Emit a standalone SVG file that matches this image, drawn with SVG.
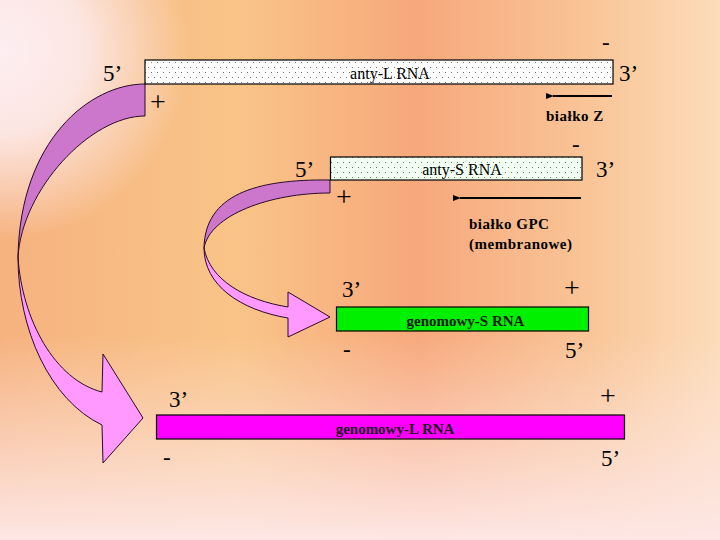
<svg xmlns="http://www.w3.org/2000/svg" width="720" height="540" viewBox="0 0 720 540">
<defs>
<linearGradient id="bgH" x1="0" y1="0" x2="1" y2="0">
<stop offset="0" stop-color="#F6B27F"/>
<stop offset="0.33" stop-color="#F9C488"/>
<stop offset="0.58" stop-color="#F7A87C"/>
<stop offset="0.82" stop-color="#F9C597"/>
<stop offset="1" stop-color="#FCDCBA"/>
</linearGradient>
<linearGradient id="bgV" x1="0" y1="0" x2="0" y2="1">
<stop offset="0" stop-color="#FDE6E4" stop-opacity="0"/>
<stop offset="0.62" stop-color="#FDE6E4" stop-opacity="0"/>
<stop offset="1" stop-color="#FDE6E4" stop-opacity="1"/>
</linearGradient>
<radialGradient id="bgC" cx="0" cy="50" r="190" gradientUnits="userSpaceOnUse">
<stop offset="0" stop-color="#FDEEF2" stop-opacity="1"/>
<stop offset="0.45" stop-color="#FDEEF2" stop-opacity="0.85"/>
<stop offset="1" stop-color="#FDEEF2" stop-opacity="0"/>
</radialGradient>
<pattern id="dotsL" width="6" height="10" patternUnits="userSpaceOnUse">
<rect width="6" height="10" fill="#FFFFFF"/>
<rect x="1" y="2" width="1" height="1" fill="#777"/>
<rect x="4" y="7" width="1" height="1" fill="#777"/>
</pattern>
<pattern id="dotsS" width="6" height="10" patternUnits="userSpaceOnUse">
<rect width="6" height="10" fill="#F2FFF2"/>
<rect x="1" y="2" width="1" height="1" fill="#5A8A5A"/>
<rect x="4" y="7" width="1" height="1" fill="#5A8A5A"/>
</pattern>
<marker id="ah" markerWidth="8" markerHeight="6" refX="1" refY="3" orient="auto" markerUnits="userSpaceOnUse">
<path d="M8,0 L0,3 L8,6 Z" fill="#000"/>
</marker>
<style>
.t{font-family:"Liberation Serif","Times New Roman",serif;fill:#000}
.end{font-size:23px}
.minus{font-size:23px}
.plus{font-size:28px}
.lbl{font-size:16px}
.gen{font-size:15px;font-weight:bold;fill:#1a1a1a}
.prot{font-size:15px;font-weight:bold;letter-spacing:0.5px}
.box{stroke:#000;stroke-width:1.2}
.back{fill:#CC77CC;stroke:#2a0a2a;stroke-width:1}
.front{fill:#FF99FF;stroke:#2a0a2a;stroke-width:1}
.arr{stroke:#000;stroke-width:2.2;fill:none}
</style>
</defs>
<rect width="720" height="540" fill="url(#bgH)"/>
<rect width="720" height="540" fill="url(#bgV)"/>
<rect width="720" height="540" fill="url(#bgC)"/>

<g id="connectors">
<g id="curveL">
<path class="back" d="M145,84 C90,84 20,140 18,257 C22,190 90,116 145,116 Z"/>
<path class="front" d="M18,257 C18,330 50,400 102,425 L103,463 L143,418 L103,354 L102,392 C55,380 22,320 18,257 Z"/>
</g>
<g id="curveS">
<path class="back" d="M330,180 C255,179 205,195 204,248 C210,215 270,193 330,193 Z"/>
<path class="front" d="M204,248 C204,285 240,310 288,318 L288,337 L330,317 L288,292 L288,307 C245,300 210,280 204,248 Z"/>
</g>
<line class="arr" x1="612" y1="96" x2="553" y2="96" marker-end="url(#ah)"/>
<line class="arr" x1="581" y1="198" x2="460" y2="198" marker-end="url(#ah)"/>
</g>

<g id="antyL">
<rect class="box" x="145" y="60" width="468" height="24" fill="url(#dotsL)"/>
<text class="t lbl" x="390" y="79" text-anchor="middle">anty-L RNA</text>
<text class="t end" x="103" y="81">5’</text>
<text class="t end" x="619" y="81">3’</text>
<text class="t minus" x="602" y="50">-</text>
<text class="t plus" x="150" y="111">+</text>
<text class="t prot" x="546" y="121">białko Z</text>
</g>

<g id="antyS">
<rect class="box" x="330.5" y="157" width="251.5" height="23" fill="url(#dotsS)"/>
<text class="t lbl" x="462" y="175" text-anchor="middle">anty-S RNA</text>
<text class="t end" x="295" y="177">5’</text>
<text class="t end" x="596" y="177">3’</text>
<text class="t minus" x="572" y="152">-</text>
<text class="t plus" x="336" y="206">+</text>
<text class="t prot" x="469" y="229">białko GPC</text>
<text class="t prot" x="469" y="249">(membranowe)</text>
</g>

<g id="genomS">
<rect class="box" x="336.5" y="307" width="252" height="24" fill="#00F000"/>
<text class="t gen" x="465.5" y="326" text-anchor="middle">genomowy-S RNA</text>
<text class="t end" x="342" y="297">3’</text>
<text class="t plus" x="564" y="297">+</text>
<text class="t minus" x="343" y="357">-</text>
<text class="t end" x="565" y="358">5’</text>
</g>

<g id="genomL">
<rect class="box" x="156.5" y="415" width="468" height="24" fill="#FF00FF"/>
<text class="t gen" x="395" y="434" text-anchor="middle">genomowy-L RNA</text>
<text class="t end" x="169" y="407">3’</text>
<text class="t plus" x="600" y="405">+</text>
<text class="t minus" x="163" y="465">-</text>
<text class="t end" x="601" y="466">5’</text>
</g>
</svg>
